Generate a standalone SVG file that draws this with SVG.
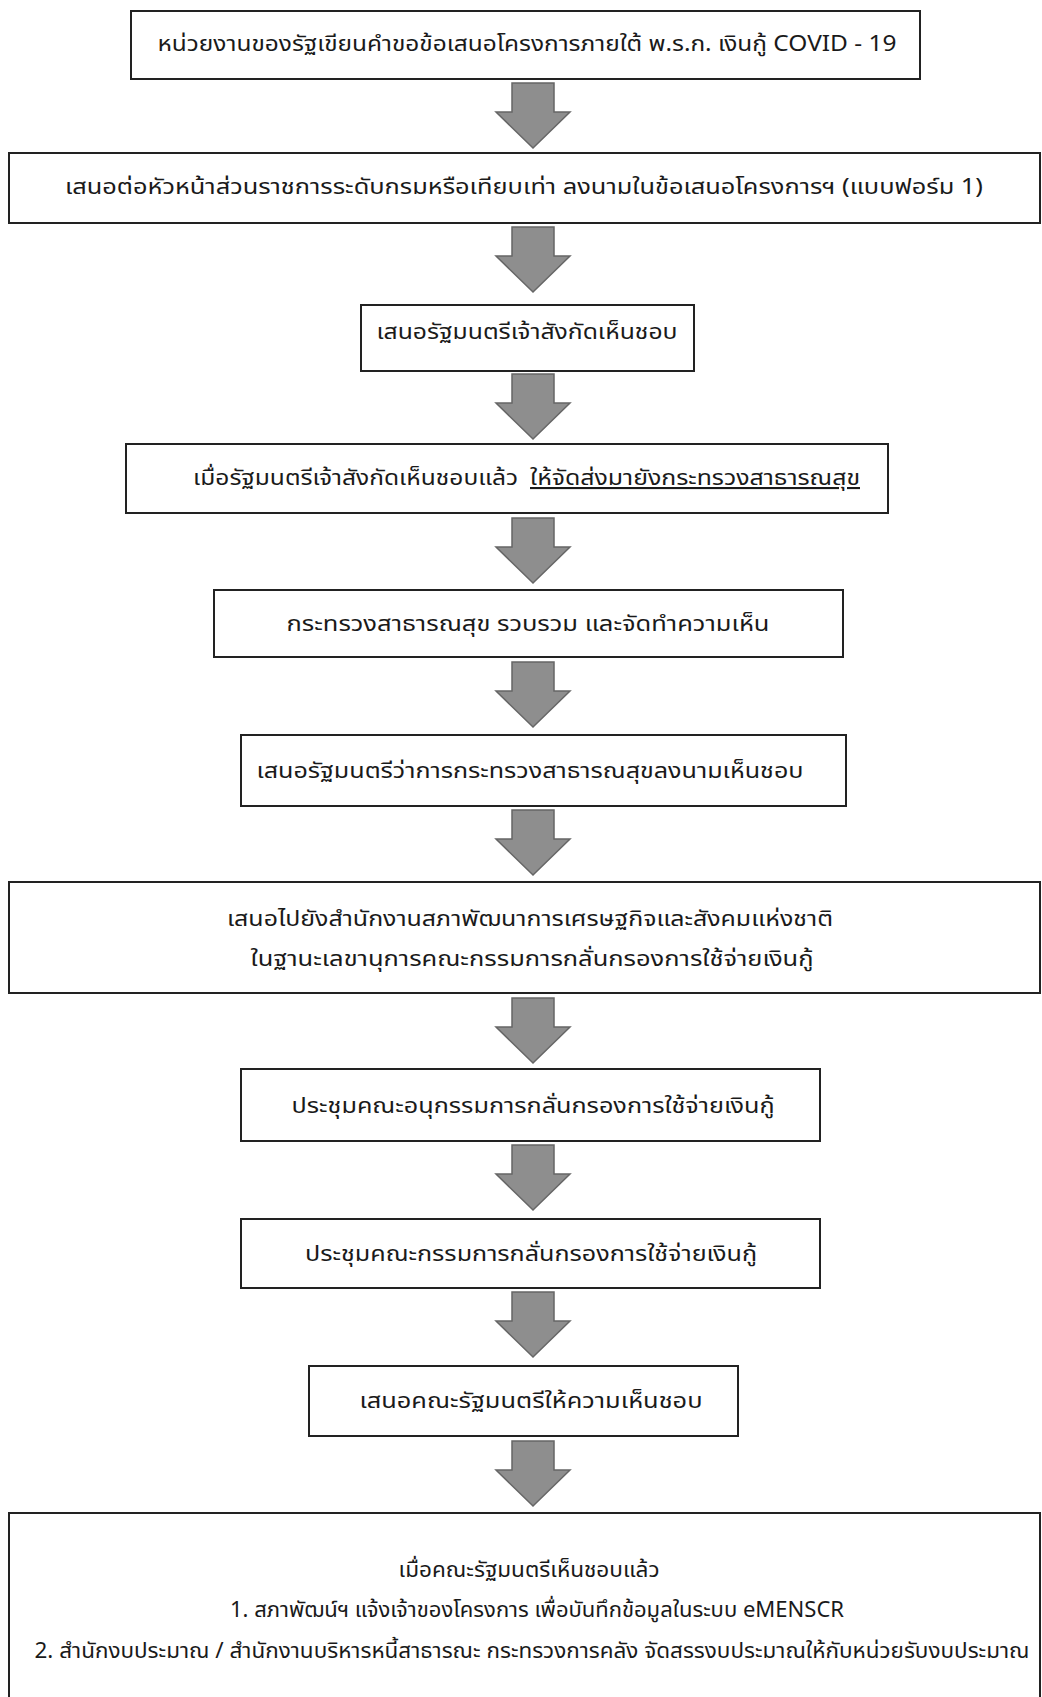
<svg xmlns="http://www.w3.org/2000/svg" width="1042" height="1697" viewBox="0 0 1042 1697">
<style>
.box{fill:#fff;stroke:#222;stroke-width:2}
.t{font-family:"Noto Sans Thai","Noto Sans","DejaVu Sans",sans-serif;font-size:21px;fill:#1a1a1a;text-anchor:middle}
.ts{font-family:"Noto Sans Thai","Noto Sans","DejaVu Sans",sans-serif;font-size:21px;fill:#1a1a1a}
.arr{fill:#8e8e8e;stroke:#666;stroke-width:1.5;stroke-linejoin:miter}
</style>
<defs>
<path id="arrow" class="arr" d="M-21,0 H21 V29 H37 L0,65 L-37,29 H-21 Z"/>
</defs>
<rect width="1042" height="1697" fill="#fff"/>
<g id="connectors">
<use href="#arrow" x="533" y="83"/>
<use href="#arrow" x="533" y="227"/>
<use href="#arrow" x="533" y="374"/>
<use href="#arrow" x="533" y="518"/>
<use href="#arrow" x="533" y="662"/>
<use href="#arrow" x="533" y="810"/>
<use href="#arrow" x="533" y="998"/>
<use href="#arrow" x="533" y="1145"/>
<use href="#arrow" x="533" y="1292"/>
<use href="#arrow" x="533" y="1441"/>
</g>
<g id="n1"><rect class="box" x="131" y="11" width="789" height="68"/>
<text class="t" x="527" y="51" textLength="739" lengthAdjust="spacingAndGlyphs">หน่วยงานของรัฐเขียนคำขอข้อเสนอโครงการภายใต้ พ.ร.ก. เงินกู้ COVID - 19</text></g>
<g id="n2"><rect class="box" x="9" y="153" width="1031" height="70"/>
<text class="t" x="524" y="194" textLength="918" lengthAdjust="spacingAndGlyphs">เสนอต่อหัวหน้าส่วนราชการระดับกรมหรือเทียบเท่า ลงนามในข้อเสนอโครงการฯ (แบบฟอร์ม 1)</text></g>
<g id="n3"><rect class="box" x="361" y="305" width="333" height="66"/>
<text class="t" x="527" y="339" textLength="301" lengthAdjust="spacingAndGlyphs">เสนอรัฐมนตรีเจ้าสังกัดเห็นชอบ</text></g>
<g id="n4"><rect class="box" x="126" y="444" width="762" height="69"/>
<text class="ts" x="193" y="485" textLength="325" lengthAdjust="spacingAndGlyphs">เมื่อรัฐมนตรีเจ้าสังกัดเห็นชอบแล้ว</text>
<text class="ts" x="530" y="485" textLength="330" lengthAdjust="spacingAndGlyphs" text-decoration="underline">ให้จัดส่งมายังกระทรวงสาธารณสุข</text></g>
<g id="n5"><rect class="box" x="214" y="590" width="629" height="67"/>
<text class="t" x="528" y="631" textLength="483" lengthAdjust="spacingAndGlyphs">กระทรวงสาธารณสุข รวบรวม และจัดทำความเห็น</text></g>
<g id="n6"><rect class="box" x="241" y="735" width="605" height="71"/>
<text class="t" x="530" y="778" textLength="547" lengthAdjust="spacingAndGlyphs">เสนอรัฐมนตรีว่าการกระทรวงสาธารณสุขลงนามเห็นชอบ</text></g>
<g id="n7"><rect class="box" x="9" y="882" width="1031" height="111"/>
<text class="t" x="530" y="926" textLength="606" lengthAdjust="spacingAndGlyphs">เสนอไปยังสำนักงานสภาพัฒนาการเศรษฐกิจและสังคมแห่งชาติ</text>
<text class="t" x="532" y="966" textLength="563" lengthAdjust="spacingAndGlyphs">ในฐานะเลขานุการคณะกรรมการกลั่นกรองการใช้จ่ายเงินกู้</text></g>
<g id="n8"><rect class="box" x="241" y="1069" width="579" height="72"/>
<text class="t" x="533" y="1113" textLength="483" lengthAdjust="spacingAndGlyphs">ประชุมคณะอนุกรรมการกลั่นกรองการใช้จ่ายเงินกู้</text></g>
<g id="n9"><rect class="box" x="241" y="1219" width="579" height="69"/>
<text class="t" x="531" y="1261" textLength="452" lengthAdjust="spacingAndGlyphs">ประชุมคณะกรรมการกลั่นกรองการใช้จ่ายเงินกู้</text></g>
<g id="n10"><rect class="box" x="309" y="1366" width="429" height="70"/>
<text class="t" x="531" y="1408" textLength="343" lengthAdjust="spacingAndGlyphs">เสนอคณะรัฐมนตรีให้ความเห็นชอบ</text></g>
<g id="n11"><rect class="box" x="9" y="1513" width="1031" height="200"/>
<text class="t" x="529" y="1577" textLength="261" lengthAdjust="spacingAndGlyphs">เมื่อคณะรัฐมนตรีเห็นชอบแล้ว</text>
<text class="t" x="537" y="1617" textLength="614" lengthAdjust="spacingAndGlyphs">1. สภาพัฒน์ฯ แจ้งเจ้าของโครงการ เพื่อบันทึกข้อมูลในระบบ eMENSCR</text>
<text class="t" x="532" y="1658" textLength="995" lengthAdjust="spacingAndGlyphs">2. สำนักงบประมาณ / สำนักงานบริหารหนี้สาธารณะ กระทรวงการคลัง จัดสรรงบประมาณให้กับหน่วยรับงบประมาณ</text></g>
</svg>
